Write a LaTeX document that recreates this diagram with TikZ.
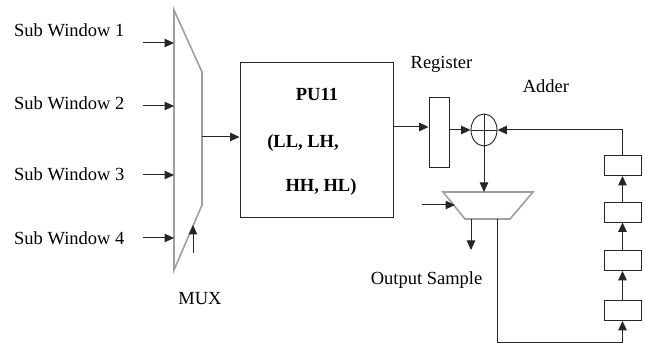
\documentclass[tikz,border=0pt]{standalone}
\usepackage{fontspec}
\setmainfont{Liberation Serif}
\usetikzlibrary{arrows.meta, positioning, shapes.geometric}

\begin{document}
\begin{tikzpicture}[
    x=1pt, y=-1pt,
    label/.style={font=\fontsize{18.5}{20}\selectfont, inner sep=0pt},
    boldlabel/.style={font=\fontsize{18.5}{20}\selectfont\bfseries, inner sep=0pt},
    block/.style={rectangle, draw=black!85, line width=0.9pt, inner sep=0pt},
    edge/.style={-{Triangle[length=9.5pt, width=8.5pt]}, line width=1pt, draw=black!85},
    wire/.style={line width=0.9pt, draw=black!85},
    muxline/.style={draw=gray!75, line width=1.6pt}
]
    \useasboundingbox (0,0) rectangle (645,344);

    % Define Nodes
    \foreach \i/\ybase/\yarr in {1/37/43, 2/110/106, 3/181/175, 4/245/238} {
        \node[label, anchor=base west] (sw\i) at (14,\ybase) {Sub Window \i};
        \coordinate (in\i) at (143,\yarr);
        \coordinate (mi\i) at (174,\yarr);
    }
    \coordinate (mux-a) at (174,10);
    \coordinate (mux-b) at (202,72);
    \coordinate (mux-c) at (202,205);
    \coordinate (mux-d) at (174,270);
    \coordinate (mux-out) at (202,137);
    \coordinate (sel-start) at (193,253);
    \coordinate (sel-end) at (193,225);
    \node[label, anchor=base] (muxlabel) at (200,305) {MUX};

    \node[block, minimum width=153pt, minimum height=155pt] (pu) at (316.5,139.5) {};
    \node[boldlabel] (puname) at (317,94) {PU11};
    \node[boldlabel] (pubands1) at (303,143) {(LL, LH,};
    \node[boldlabel] (pubands2) at (321,187) {HH, HL)};

    \node[block, minimum width=20pt, minimum height=70pt] (reg) at (439,132) {};
    \node[label, anchor=base] (reglabel) at (441.5,69) {Register};

    \node[ellipse, draw=black!85, line width=0.9pt, minimum width=26pt, minimum height=32pt, inner sep=0pt] (add) at (484,130) {};
    \node[label, anchor=base] (addlabel) at (546,93) {Adder};

    \coordinate (om-a) at (443,192);
    \coordinate (om-b) at (533,192);
    \coordinate (om-c) at (510,219);
    \coordinate (om-d) at (465,219);
    \coordinate (om-in) at (484,192);
    \coordinate (om-ctl) at (422,205);
    \coordinate (om-ctlend) at (455,205);
    \coordinate (om-out) at (471,219);
    \coordinate (om-outend) at (471,250);
    \coordinate (om-fb) at (497,219);
    \coordinate (fb-corner) at (497,342.5);
    \node[label, anchor=base] (outlabel) at (426.5,285) {Output Sample};

    \foreach \i/\yc in {1/165.5, 2/212, 3/260.5, 4/310.5} {
        \node[block, minimum width=37pt, minimum height=20pt] (d\i) at (622.5,\yc) {};
    }

    % Draw Edges
    \draw[muxline] (mux-a) -- (mux-b) -- (mux-c) -- (mux-d) -- cycle;
    \foreach \i in {1,...,4} {
        \draw[edge] (in\i) -- (mi\i);
    }
    \draw[edge] (sel-start) -- (sel-end);
    \draw[edge] (mux-out) -- (pu.west |- mux-out);

    \draw[edge] (pu.east |- 0,127) -- (reg.west |- 0,127);
    \draw[edge] (reg.east |- add) -- (add.west);
    \draw[wire] (add.north) -- (add.south) (add.west) -- (add.east);

    \draw[muxline] (om-a) -- (om-b) -- (om-c) -- (om-d) -- cycle;
    \draw[edge] (add.south) -- (om-in);
    \draw[edge] (om-ctl) -- (om-ctlend);
    \draw[edge] (om-out) -- (om-outend);

    \draw[edge] (om-fb) -- (fb-corner) -| (d4.south);
    \foreach \i/\j in {4/3, 3/2, 2/1} {
        \draw[edge] (d\i.north) -- (d\j.south);
    }
    \draw[edge] (d1.north) |- (add.east);
\end{tikzpicture}
\end{document}
